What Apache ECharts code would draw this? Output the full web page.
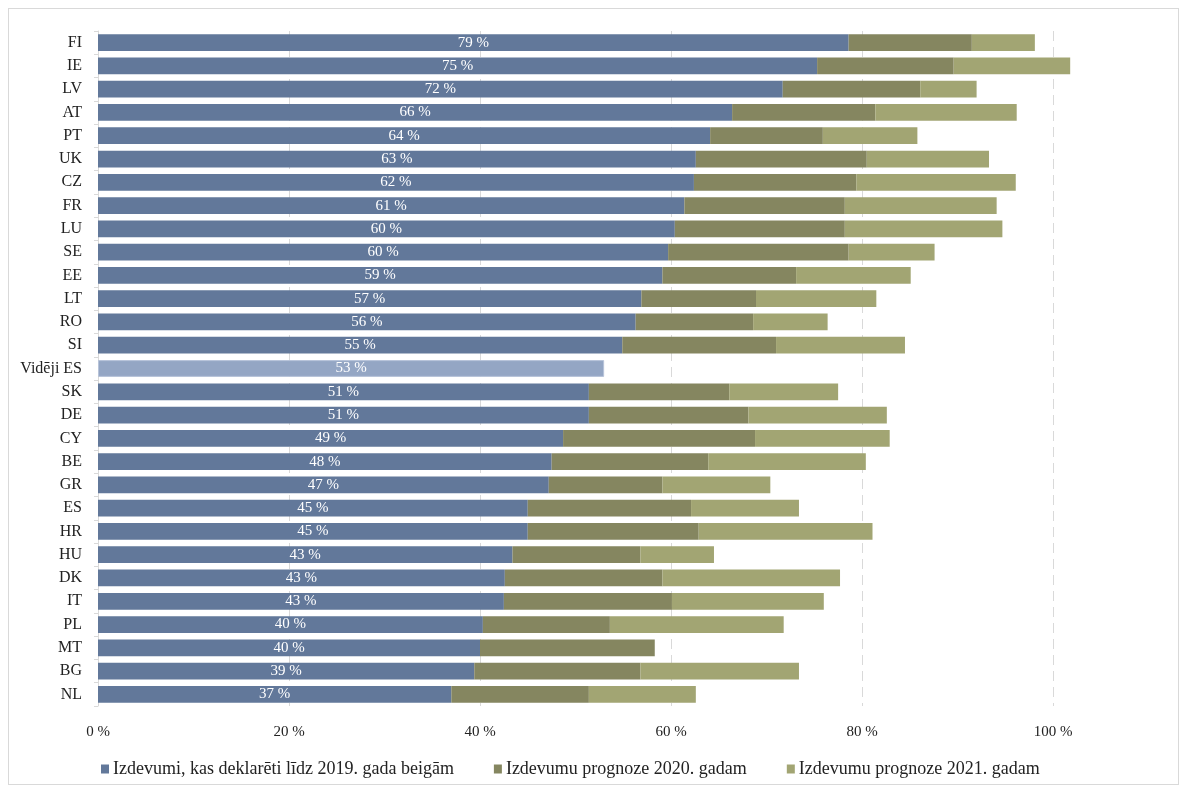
<!DOCTYPE html>
<html>
<head>
<meta charset="utf-8">
<script src="https://cdn.jsdelivr.net/npm/echarts@6/dist/echarts.min.js"></script>
<style>
html,body{margin:0;padding:0;background:#fff;}
#frame{position:absolute;left:8px;top:8px;width:1171px;height:777px;border:1px solid #d9d9d9;box-sizing:border-box;}
#chart{position:absolute;left:0;top:0;width:1188px;height:794px;}
</style>
</head>
<body>
<div id="frame"></div>
<div id="chart"></div>
<script>
const categories = ['FI','IE','LV','AT','PT','UK','CZ','FR','LU','SE','EE','LT','RO','SI','Vidēji ES','SK','DE','CY','BE','GR','ES','HR','HU','DK','IT','PL','MT','BG','NL'];
const declared2019 = [78.6,75.3,71.7,66.4,64.1,62.6,62.4,61.4,60.4,59.7,59.1,56.9,56.3,54.9,53.0,51.4,51.4,48.7,47.5,47.2,45.0,45.0,43.4,42.6,42.5,40.3,40.0,39.4,37.0];
const forecast2020 = [12.9,14.3,14.4,15.0,11.8,17.9,17.0,16.8,17.8,18.9,14.0,12.0,12.3,16.1,0,14.7,16.7,20.1,16.4,11.9,17.1,17.9,13.4,16.5,17.6,13.3,18.3,17.4,14.4];
const forecast2021 = [6.6,12.2,5.9,14.8,9.9,12.8,16.7,15.9,16.5,9.0,12.0,12.6,7.8,13.5,0,11.4,14.5,14.1,16.5,11.3,11.3,18.2,7.7,18.6,15.9,18.2,0,16.6,11.2];
const xTicks = [0,20,40,60,80,100];
const seriesNames = ['Izdevumi, kas deklarēti līdz 2019. gada beigām','Izdevumu prognoze 2020. gadam','Izdevumu prognoze 2021. gadam'];
const averageName = 'Vidēji ES';

const FONT = '"Liberation Serif", "DejaVu Serif", serif';
const chart = echarts.init(document.getElementById('chart'));

const blueData = declared2019.map((v, i) => categories[i] === averageName
  ? {value: v, itemStyle: {color: '#94a6c4', borderColor: '#b7c3d9', borderWidth: 1}}
  : v);

chart.setOption({
  animation: false,
  textStyle: {fontFamily: FONT},
  color: ['#62789a', '#858660', '#a2a573'],
  grid: {left: 98, right: 135, top: 31, bottom: 88},
  legend: {
    bottom: 11,
    left: 96,
    itemWidth: 8, itemHeight: 9,
    itemGap: 40,
    icon: 'rect',
    textStyle: {fontFamily: FONT, fontSize: 18, color: '#222', padding: [0, 0, 0, -1]},
    data: seriesNames
  },
  xAxis: {
    type: 'value',
    min: xTicks[0], max: xTicks[xTicks.length - 1], interval: 20,
    axisLine: {show: false},
    axisTick: {show: false},
    axisLabel: {formatter: '{value} %', fontFamily: FONT, fontSize: 15, color: '#222', margin: 19},
    splitLine: {show: true, lineStyle: {color: '#d9d9d9', type: [10, 6], width: 1}}
  },
  yAxis: {
    type: 'category',
    inverse: true,
    data: categories,
    axisLine: {show: true, lineStyle: {color: '#d9d9d9'}},
    axisTick: {show: true, length: 4, lineStyle: {color: '#d9d9d9'}},
    axisLabel: {fontFamily: FONT, fontSize: 16, color: '#222', margin: 16}
  },
  series: [
    {
      name: seriesNames[0], type: 'bar', stack: 'total', barWidth: '72%', clip: false,
      data: blueData,
      label: {show: true, position: 'inside', color: '#fff', fontFamily: FONT, fontSize: 15,
        formatter: p => Math.round(p.value) + ' %'}
    },
    {name: seriesNames[1], type: 'bar', stack: 'total', barWidth: '72%', clip: false, data: forecast2020},
    {name: seriesNames[2], type: 'bar', stack: 'total', barWidth: '72%', clip: false, data: forecast2021}
  ]
});
</script>
</body>
</html>
